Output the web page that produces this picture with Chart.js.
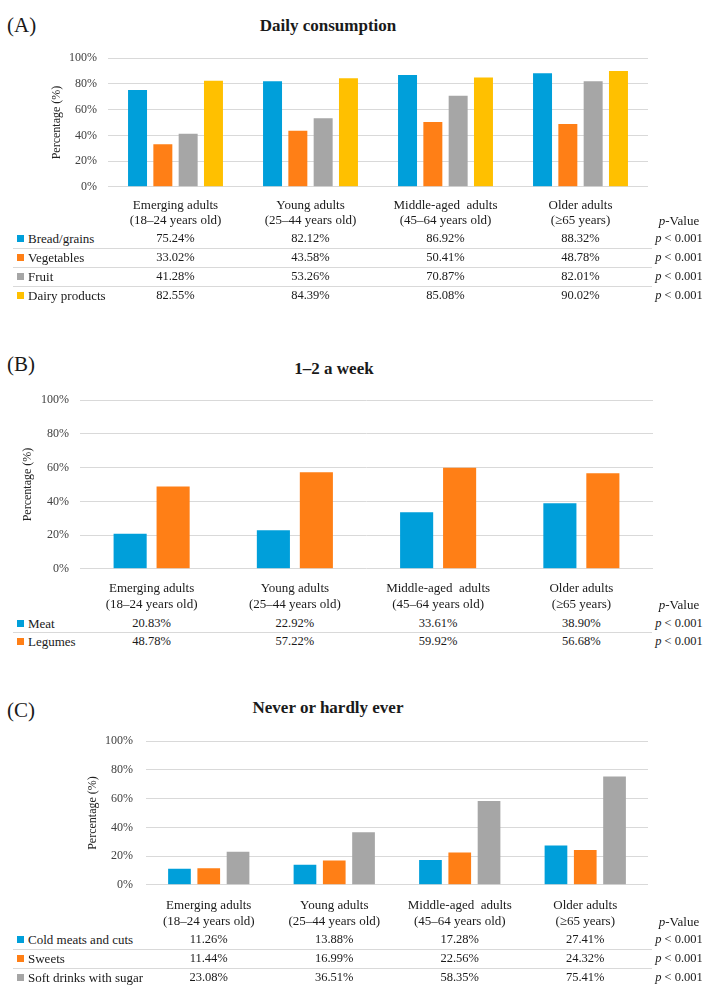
<!DOCTYPE html>
<html><head><meta charset="utf-8">
<script src="https://cdn.jsdelivr.net/npm/chart.js@4.4.0/dist/chart.umd.min.js"></script>
<style>
html,body{margin:0;padding:0;background:#fff;}
#page{position:relative;width:712px;height:997px;overflow:hidden;font-family:"Liberation Serif","Times New Roman",serif;color:#1a1a1a;}
.abs{position:absolute;white-space:pre;line-height:1;}
.c{transform:translate(-50%,-50%);}
.l{transform:translate(0,-50%);}
.panel{font-size:21px;}
.title{font-weight:bold;font-size:17px;}
.hdr{font-size:13px;}
.lab{font-size:13px;}
.val{font-size:12.5px;}
.sq{position:absolute;width:7px;height:7px;}
.sep{position:absolute;height:1px;background:#D9D9D9;}
</style></head>
<body><div id="page"></div>
<script>
// ---- data ----
const categories = [
  ["Emerging adults", "(18–24 years old)"],
  ["Young adults", "(25–44 years old)"],
  ["Middle-aged  adults", "(45–64 years old)"],
  ["Older adults", "(≥65 years)"]
];
const yTicks = [0, 20, 40, 60, 80, 100];

// (A) Daily consumption
const breadGrains   = [75.24, 82.12, 86.92, 88.32];
const vegetables    = [33.02, 43.58, 50.41, 48.78];
const fruit         = [41.28, 53.26, 70.87, 82.01];
const dairyProducts = [82.55, 84.39, 85.08, 90.02];
const pA = ["0.001", "0.001", "0.001", "0.001"];

// (B) 1–2 a week
const meat    = [20.83, 22.92, 33.61, 38.90];
const legumes = [48.78, 57.22, 59.92, 56.68];
const pB = ["0.001", "0.001"];

// (C) Never or hardly ever
const coldMeats  = [11.26, 13.88, 17.28, 27.41];
const sweets     = [11.44, 16.99, 22.56, 24.32];
const softDrinks = [23.08, 36.51, 58.35, 75.41];
const pC = ["0.001", "0.001", "0.001"];

const BLUE = '#009FDA', ORANGE = '#FF7F16', GRAY = '#A6A6A6', YELLOW = '#FFC000';

// ---- layout ----
const page = document.getElementById('page');
function el(cls, text, x, y, extra) {
  const d = document.createElement('div');
  d.className = 'abs ' + cls;
  if (text !== null) d.textContent = text;
  d.style.left = x + 'px'; d.style.top = y + 'px';
  if (extra) Object.assign(d.style, extra);
  page.appendChild(d);
  return d;
}

function makePanel(cfg) {
  el('panel l', cfg.letter, 7, cfg.letterY);
  el('title c', cfg.title, cfg.titleX, cfg.titleY);
  const wrap = document.createElement('div');
  wrap.style.position = 'absolute';
  wrap.style.left = '0px'; wrap.style.top = cfg.canvasTop + 'px';
  wrap.style.width = '712px'; wrap.style.height = cfg.canvasH + 'px';
  const cv = document.createElement('canvas');
  cv.width = 712; cv.height = cfg.canvasH;
  cv.style.width = '712px'; cv.style.height = cfg.canvasH + 'px';
  wrap.appendChild(cv); page.appendChild(wrap);

  const chart = new Chart(cv, {
    type: 'bar',
    data: {
      labels: categories.map(c => c.join(' ')),
      datasets: cfg.series.map(s => ({
        label: s.name, data: s.values, backgroundColor: s.color,
        borderWidth: 0, categoryPercentage: cfg.cp, barPercentage: cfg.bp
      }))
    },
    options: {
      responsive: false, animation: false, maintainAspectRatio: false,
      layout: {padding: {left: cfg.padL, right: cfg.padR, top: cfg.padT, bottom: cfg.padB}},
      plugins: {legend: {display: false}, tooltip: {enabled: false}},
      scales: {
        x: {display: false},
        y: {
          min: 0, max: 100,
          afterBuildTicks: s => { s.ticks = yTicks.map(v => ({value: v})); },
          ticks: {callback: v => v + '%', padding: cfg.tickPad, color: '#404040',
                  font: {family: 'Liberation Serif', size: 12}},
          grid: {color: '#D9D9D9', drawTicks: false, lineWidth: 1},
          border: {display: false},
          title: {display: true, text: 'Percentage (%)', color: '#222',
                  font: {family: 'Liberation Serif', size: 12}, padding: {top: 0, bottom: 0}},
          afterFit: s => { s.width = cfg.axisW; }
        }
      }
    }
  });

  // table below chart, columns aligned with the category scale
  const xs = categories.map((c, i) => chart.scales.x.getPixelForValue(i));
  categories.forEach((c, i) => {
    el('hdr c', c[0], xs[i], cfg.hdrY[0]);
    el('hdr c', c[1], xs[i], cfg.hdrY[1]);
  });
  const pv = el('hdr c', null, 679, cfg.hdrY[1] + 1);
  pv.innerHTML = '<i>p</i>-Value';
  cfg.series.forEach((s, r) => {
    const y = cfg.rowY[r];
    const sq = document.createElement('div');
    sq.className = 'sq'; sq.style.left = '17px'; sq.style.top = (y - 3.5) + 'px';
    sq.style.background = s.color; page.appendChild(sq);
    el('lab l', s.name, 28, y);
    s.values.forEach((v, i) => el('val c', v.toFixed(2) + '%', xs[i], y));
    const p = el('val c', null, 679, y);
    p.innerHTML = '<i>p</i> &lt; ' + s.p;
    if (r < cfg.series.length - 1) {
      const ln = document.createElement('div');
      ln.className = 'sep'; ln.style.left = '13px'; ln.style.width = '639px';
      ln.style.top = Math.round((y + cfg.rowY[r + 1]) / 2) + 'px';
      page.appendChild(ln);
    }
  });
}

makePanel({
  letter: '(A)', letterY: 25, title: 'Daily consumption', titleX: 328, titleY: 25,
  canvasTop: 40, canvasH: 165, padL: 50, padR: 64, padT: 9, padB: 11, axisW: 58, tickPad: 11,
  cp: 0.75, bp: 0.75,
  series: [
    {name: 'Bread/grains', values: breadGrains, color: BLUE, p: pA[0]},
    {name: 'Vegetables', values: vegetables, color: ORANGE, p: pA[1]},
    {name: 'Fruit', values: fruit, color: GRAY, p: pA[2]},
    {name: 'Dairy products', values: dairyProducts, color: YELLOW, p: pA[3]}
  ],
  hdrY: [204, 219], rowY: [238, 257, 276, 295]
});

makePanel({
  letter: '(B)', letterY: 364, title: '1–2 a week', titleX: 334, titleY: 368,
  canvasTop: 382, canvasH: 205, padL: 21, padR: 59, padT: 10, padB: 10, axisW: 59, tickPad: 11,
  cp: 0.60, bp: 0.77,
  series: [
    {name: 'Meat', values: meat, color: BLUE, p: pB[0]},
    {name: 'Legumes', values: legumes, color: ORANGE, p: pB[1]}
  ],
  hdrY: [587, 603], rowY: [623, 641]
});

makePanel({
  letter: '(C)', letterY: 710, title: 'Never or hardly ever', titleX: 328, titleY: 707,
  canvasTop: 721, canvasH: 184, padL: 86, padR: 64, padT: 10, padB: 10, axisW: 60, tickPad: 13,
  cp: 0.70, bp: 0.775,
  series: [
    {name: 'Cold meats and cuts', values: coldMeats, color: BLUE, p: pC[0]},
    {name: 'Sweets', values: sweets, color: ORANGE, p: pC[1]},
    {name: 'Soft drinks with sugar', values: softDrinks, color: GRAY, p: pC[2]}
  ],
  hdrY: [904, 920], rowY: [939, 958, 977]
});
</script>
</body></html>
